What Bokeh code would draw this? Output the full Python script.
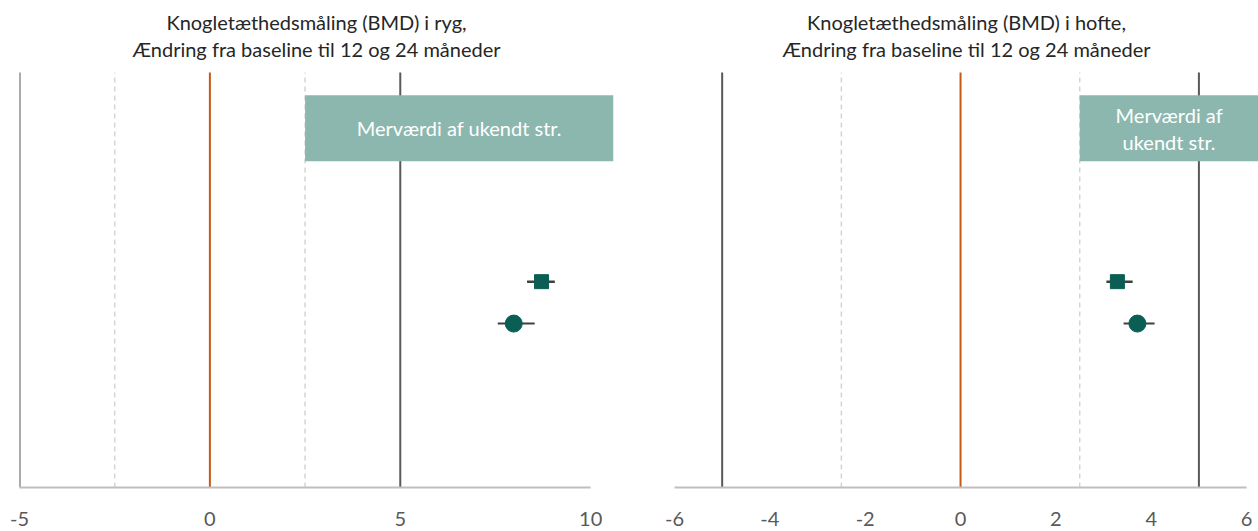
from bokeh.plotting import figure
from bokeh.layouts import row
from bokeh.embed import file_html
from bokeh.resources import INLINE
from bokeh.core.properties import value

# ---- data ----
title_line1 = ["Knogletæthedsmåling (BMD) i ryg,", "Knogletæthedsmåling (BMD) i hofte,"]
title_line2 = ["Ændring fra baseline til 12 og 24 måneder", "Ændring fra baseline til 12 og 24 måneder"]
x_ticks = [[-5, 0, 5, 10], [-6, -4, -2, 0, 2, 4, 6]]
axis_bounds = [(-5, 10), (-6, 6)]
x_ranges = [(-5, 10.6), (-6, 6.25)]
box_text = ["Merværdi af ukendt str.", "Merværdi af\nukendt str."]
box_left = [2.5, 2.5]
dark_lines = [-5, 5]
dashed_lines = [-2.5, 2.5]
zero_line = [0]

# 12 months (square) and 24 months (circle) estimates with CI
sq_est = [8.71, 3.29]
sq_lo = [8.33, 3.06]
sq_hi = [9.06, 3.61]
ci_est = [7.98, 3.71]
ci_lo = [7.56, 3.42]
ci_hi = [8.53, 4.07]
sq_y = 4.96
ci_y = 3.95
box_bottom, box_top = 7.86, 9.45
panel_top = 10.0          # top of the plotting area
y_max = 11.735            # room above for the two title lines
title_y = [11.205, 10.578]

TEAL = "#0b5e54"
BOX = "#8cb7ae"
ORANGE = "#c55a11"
DARK = "#595959"
LIGHT = "#d4d4d4"
FONT = "Lato"

sizes = [dict(width=648, mbl=19, mbr=35), dict(width=610, mbl=26, mbr=0)]

figs = []
for i in range(2):
    p = figure(width=sizes[i]["width"], height=531, x_range=x_ranges[i], y_range=(0, y_max),
               output_backend="svg", toolbar_location=None, title=None,
               min_border_left=sizes[i]["mbl"], min_border_right=sizes[i]["mbr"],
               min_border_top=0, min_border_bottom=44)
    p.outline_line_color = None
    p.xgrid.visible = False
    p.ygrid.visible = False
    p.yaxis.visible = False
    ax = p.xaxis[0]
    ax.ticker = x_ticks[i]
    ax.bounds = axis_bounds[i]
    ax.major_label_overrides = {t: str(t) for t in x_ticks[i]}
    ax.axis_line_color = "#bfbfbf"
    ax.axis_line_width = 2
    ax.major_tick_line_color = None
    ax.minor_tick_line_color = None
    ax.major_label_text_font = FONT
    ax.major_label_text_font_size = "20px"
    ax.major_label_text_color = DARK
    ax.major_label_standoff = 18

    n_d = len(dashed_lines)
    p.segment(x0=dashed_lines, x1=dashed_lines, y0=[0] * n_d, y1=[panel_top] * n_d,
              line_color=LIGHT, line_width=1.5, line_dash="5 4")
    n_k = len(dark_lines)
    p.segment(x0=dark_lines, x1=dark_lines, y0=[0] * n_k, y1=[panel_top] * n_k,
              line_color=DARK, line_width=2)
    p.segment(x0=zero_line, x1=zero_line, y0=[0], y1=[panel_top], line_color=ORANGE, line_width=2)

    p.quad(left=[box_left[i]], right=[x_ranges[i][1]], bottom=[box_bottom], top=[box_top],
           fill_color=BOX, line_color=None)
    p.text(x=[(box_left[i] + x_ranges[i][1]) / 2], y=[(box_bottom + box_top) / 2],
           text=[box_text[i]], text_align="center", text_baseline="middle",
           text_color="white", text_font=value(FONT), text_font_size="20px",
           text_line_height=1.1)

    xc = (x_ranges[i][0] + x_ranges[i][1]) / 2
    p.text(x=[xc, xc], y=title_y, text=[title_line1[i], title_line2[i]],
           text_align="center", text_baseline="middle", text_color="#262626",
           text_font=value(FONT), text_font_size="20px")

    p.segment(x0=[sq_lo[i]], x1=[sq_hi[i]], y0=[sq_y], y1=[sq_y], line_color="#404040", line_width=2.5)
    p.segment(x0=[ci_lo[i]], x1=[ci_hi[i]], y0=[ci_y], y1=[ci_y], line_color="#404040", line_width=2)
    p.scatter(x=[sq_est[i]], y=[sq_y], marker="square", size=14, fill_color=TEAL, line_color=TEAL)
    p.scatter(x=[ci_est[i]], y=[ci_y], marker="circle", size=17, fill_color=TEAL, line_color=TEAL)
    figs.append(p)

layout = row(*figs)
open("out.html", "w").write(file_html(layout, INLINE))
